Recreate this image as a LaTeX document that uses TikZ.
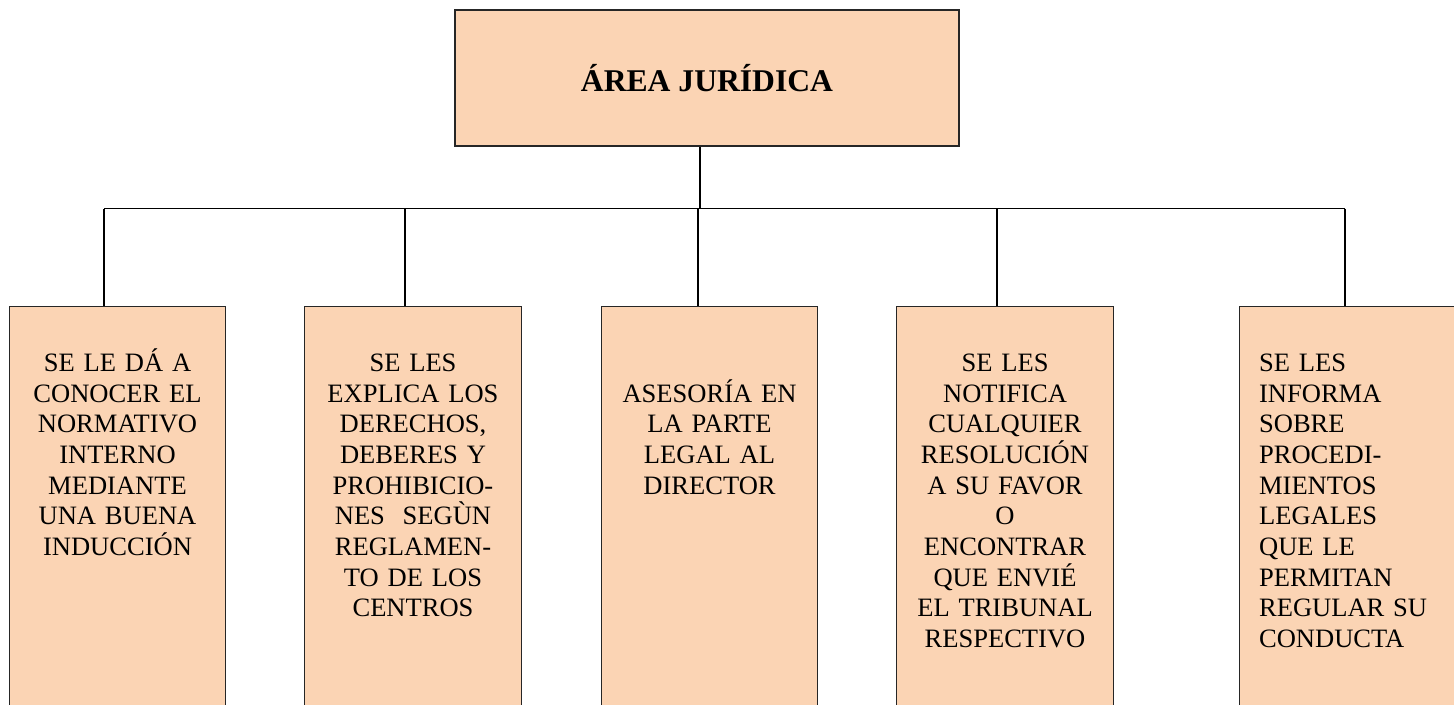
\documentclass[tikz,border=0pt]{standalone}
\usepackage{fontspec}
\setmainfont{Liberation Serif}
\usepackage{tikz}
\usetikzlibrary{positioning}
\definecolor{peach}{HTML}{FBD4B4}

\begin{document}
\begin{tikzpicture}[
    box/.style={draw=black!85, line width=0.6pt, fill=peach, inner sep=0pt},
    leaf/.style={box, minimum width=4.33cm, minimum height=8.6cm, anchor=north},
    leaftext/.style={inner sep=0pt, anchor=north, align=center, text width=4.2cm,
        font=\fontsize{15.1}{17.45}\selectfont, execute at begin node={\rule{0pt}{13pt}}},
    wire/.style={line width=0.6pt},
    drop/.style={line width=0.9pt}
]
    \clip (0,0) rectangle (29.08,-14.08);

    % Central area
    \node[box, minimum width=10.08cm, minimum height=2.72cm] (top) at (14.14,-1.56)
        {\fontsize{18}{21}\selectfont\bfseries ÁREA JURÍDICA};

    % Bus points
    \coordinate (hub) at (14,-4.17);
    \coordinate (d1) at (2.08,-4.17);
    \coordinate (d2) at (8.1,-4.17);
    \coordinate (d3) at (13.96,-4.17);
    \coordinate (d4) at (19.94,-4.17);
    \coordinate (d5) at (26.9,-4.17);

    % Functions
    \node[leaf] (b1) at (2.35,-6.12) {};
    \node[leaf] (b2) at (8.26,-6.12) {};
    \node[leaf] (b3) at (14.19,-6.12) {};
    \node[leaf] (b4) at (20.1,-6.12) {};
    \node[leaf] (b5) at (26.95,-6.12) {};

    \node[leaftext, below=0.843cm of b1.north] (t1)
        {SE LE DÁ A\\CONOCER EL\\NORMATIVO\\INTERNO\\MEDIANTE\\UNA BUENA\\INDUCCIÓN};
    \node[leaftext, below=0.843cm of b2.north] (t2)
        {SE LES\\EXPLICA LOS\\DERECHOS,\\DEBERES Y\\PROHIBICIO-\\NES\ \ SEGÙN\\REGLAMEN-\\TO DE LOS\\CENTROS};
    \node[leaftext, below=1.457cm of b3.north] (t3)
        {ASESORÍA EN\\LA PARTE\\LEGAL AL\\DIRECTOR};
    \node[leaftext, below=0.843cm of b4.north] (t4)
        {SE LES\\NOTIFICA\\CUALQUIER\\RESOLUCIÓN\\A SU FAVOR\\O\\ENCONTRAR\\QUE ENVIÉ\\EL TRIBUNAL\\RESPECTIVO};
    \node[leaftext, align=left, anchor=north west, below right=0.843cm and 0.4cm of b5.north west] (t5)
        {SE LES\\INFORMA\\SOBRE\\PROCEDI-\\MIENTOS\\LEGALES\\QUE LE\\PERMITAN\\REGULAR SU\\CONDUCTA};

    % Connectors
    \draw[wire] (top.south -| hub) -- (hub);
    \draw[wire] (d1) -- (d5);
    \draw[drop] (d1) -- (d1 |- b1.north);
    \draw[drop] (d2) -- (d2 |- b2.north);
    \draw[drop] (d3) -- (d3 |- b3.north);
    \draw[drop] (d4) -- (d4 |- b4.north);
    \draw[drop] (d5) -- (d5 |- b5.north);
\end{tikzpicture}
\end{document}
